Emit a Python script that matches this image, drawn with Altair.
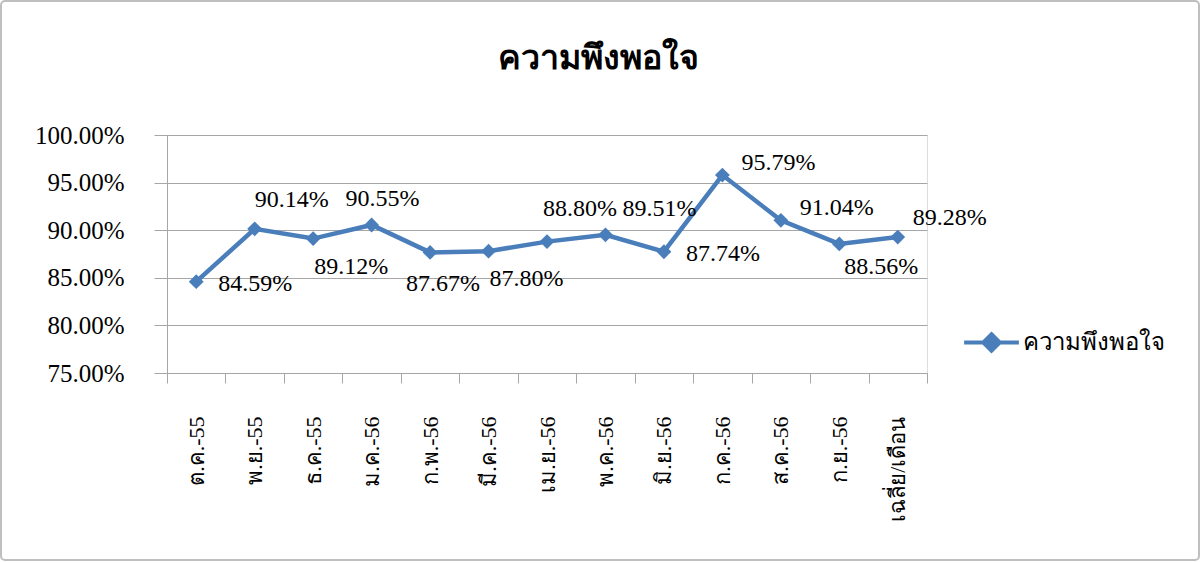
import altair as alt
import pandas as pd

title_text = "ความพึงพอใจ"
series_name = "ความพึงพอใจ"
months = ["ต.ค.-55", "พ.ย.-55", "ธ.ค.-55", "ม.ค.-56", "ก.พ.-56", "มี.ค.-56",
          "เม.ย.-56", "พ.ค.-56", "มิ.ย.-56", "ก.ค.-56", "ส.ค.-56", "ก.ย.-56",
          "เฉลี่ย/เดือน"]
values = [84.59, 90.14, 89.12, 90.55, 87.67, 87.80, 88.80, 89.51, 87.74,
          95.79, 91.04, 88.56, 89.28]
placement = ["right", "above", "below", "above_c", "below_c", "below",
             "above3", "above2", "right", "upright", "upright", "below2", "upright2"]
y_ticks = [0.75, 0.80, 0.85, 0.90, 0.95, 1.00]

df = pd.DataFrame({
    "month": months,
    "value": [v / 100 for v in values],
    "place": placement,
    "series": [series_name] * len(months),
})

FONT = "Liberation Serif"
BLUE = "#4A7EBB"
GRID = "#A6A6A6"

x_enc = alt.X("month:N", sort=months, title=None,
              scale=alt.Scale(type="band", paddingInner=0, paddingOuter=0),
              axis=alt.Axis(labelAngle=-90, labelPadding=33, tickSize=10,
                            tickBand="extent", labelFontSize=22, labelFont=FONT,
                            labelColor="black", domainColor=GRID, tickColor=GRID,
                            grid=False))
y_enc = alt.Y("value:Q", title=None,
              scale=alt.Scale(domain=[0.75, 1.0], nice=False, zero=False),
              axis=alt.Axis(values=y_ticks, format=".2%", tickSize=13,
                            labelPadding=30, labelFontSize=25, labelFont=FONT,
                            labelColor="black", domainColor=GRID, tickColor=GRID,
                            gridColor=GRID, grid=True))

legend_symbol = "M-1,0L1,0M0,-0.3L0.3,0L0,0.3L-0.3,0Z"

line = alt.Chart(df).mark_line(strokeWidth=4.5, color=BLUE).encode(
    x=x_enc, y=y_enc,
    color=alt.Color("series:N", scale=alt.Scale(range=[BLUE]),
                    legend=alt.Legend(title=None, orient="none", legendX=795,
                                      legendY=178, symbolType=legend_symbol,
                                      symbolSize=3000, symbolStrokeWidth=4,
                                      symbolFillColor=BLUE, symbolStrokeColor=BLUE,
                                      labelFontSize=24, labelFont=FONT,
                                      labelColor="black", labelOffset=2)),
)
points = alt.Chart(df).mark_point(shape="diamond", filled=True, size=220,
                                  color=BLUE, opacity=1).encode(x=x_enc, y=y_enc)

offsets = {
    "right": (22, 2, "left"),
    "above": (37, -29, "center"),
    "above3": (33, -33, "center"),
    "above2": (17, -26, "left"),
    "above_c": (11, -26, "center"),
    "below": (38, 28, "center"),
    "below2": (42, 23, "center"),
    "below_c": (13, 32, "center"),
    "upright": (19, -12, "left"),
    "upright2": (15, -19, "left"),
}
label_layers = []
for name, (dx, dy, al) in offsets.items():
    label_layers.append(
        alt.Chart(df).transform_filter(alt.datum.place == name)
        .mark_text(dx=dx, dy=dy, align=al, baseline="middle", fontSize=24,
                   font=FONT, color="black")
        .encode(x=x_enc, y=y_enc, text=alt.Text("value:Q", format=".2%"))
    )

border = alt.Chart(alt.Data(values=[{"a": 1}])).mark_rect(
    fill=None, stroke="#BFBFBF", strokeWidth=2, cornerRadius=4
).encode(x=alt.value(-166), x2=alt.value(1032), y=alt.value(-134), y2=alt.value(425))

chart = alt.layer(border, line, points, *label_layers).properties(
    width=760, height=238,
    padding={"left": 167, "top": 135, "right": 274, "bottom": 190},
    autosize=alt.AutoSizeParams(type="none"),
    title=alt.TitleParams(title_text, font=FONT, fontSize=34, fontWeight="bold",
                          color="black", anchor="middle", dx=51, offset=-76),
).configure_view(stroke=None).configure(background="white")

chart.save("out.html", embed_options={"renderer": "svg", "actions": False})
